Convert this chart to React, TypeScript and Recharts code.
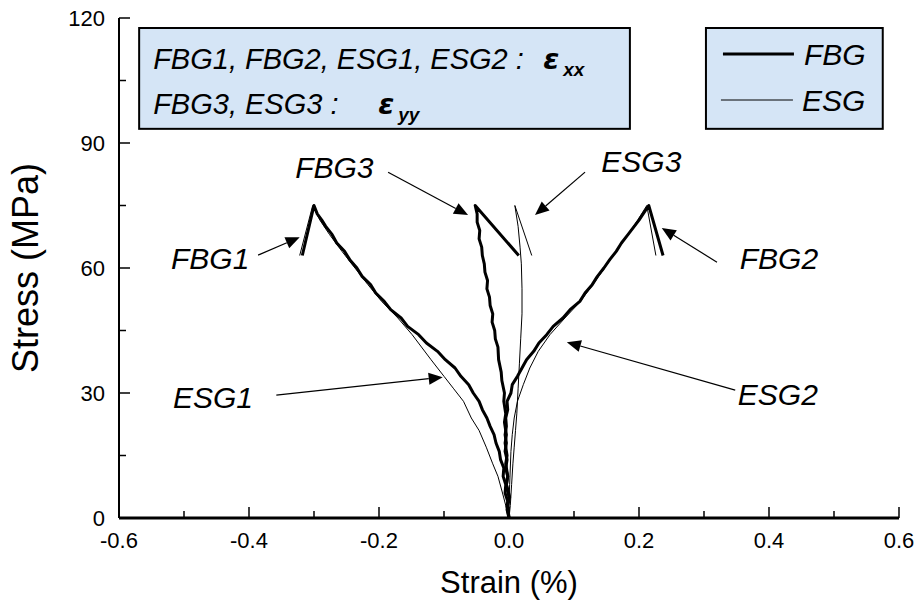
import React from 'react';
import { LineChart, Line, XAxis, YAxis, ReferenceArea, ReferenceLine, ReferenceDot } from 'recharts';

// [strain %, stress MPa]
type Pt = [number, number];

const fbg1: Pt[] = [
  [0, 0], [-0.003, 2], [-0.002, 4], [-0.006, 6], [-0.005, 8], [-0.009, 10], [-0.008, 12],
  [-0.013, 14], [-0.015, 16], [-0.02, 18], [-0.023, 20], [-0.029, 22], [-0.034, 24],
  [-0.041, 26], [-0.046, 28], [-0.055, 30], [-0.062, 32], [-0.074, 34], [-0.083, 36],
  [-0.098, 38], [-0.11, 40], [-0.127, 42], [-0.139, 44], [-0.156, 46], [-0.166, 48],
  [-0.182, 50], [-0.192, 52], [-0.205, 54], [-0.213, 56], [-0.226, 58], [-0.234, 60],
  [-0.245, 62], [-0.253, 64], [-0.265, 66], [-0.272, 68], [-0.282, 70], [-0.288, 71.5],
  [-0.295, 73], [-0.3, 75], [-0.318, 63],
];
const esg1: Pt[] = [
  [0, 0], [-0.005, 3], [-0.01, 6], [-0.017, 10], [-0.025, 13], [-0.035, 17], [-0.046, 21],
  [-0.058, 24], [-0.07, 28], [-0.085, 31], [-0.1, 34], [-0.12, 38], [-0.149, 44],
  [-0.171, 48], [-0.196, 52], [-0.217, 56], [-0.237, 60], [-0.257, 64], [-0.276, 68],
  [-0.291, 71.5], [-0.302, 75], [-0.322, 63],
];
const fbg2: Pt[] = [
  [0, 0], [-0.002, 3], [0.001, 5], [-0.004, 8], [-0.002, 10], [-0.005, 12], [-0.003, 14],
  [-0.006, 16], [-0.004, 18], [-0.006, 20], [-0.004, 22], [-0.005, 24], [-0.002, 26],
  [-0.003, 28], [0.003, 30], [0.005, 32], [0.013, 34], [0.02, 36], [0.027, 38], [0.038, 40],
  [0.046, 42], [0.058, 44], [0.068, 46], [0.083, 48], [0.094, 50], [0.109, 52], [0.117, 54],
  [0.128, 56], [0.136, 58], [0.146, 60], [0.155, 62], [0.165, 64], [0.173, 66], [0.183, 68],
  [0.2, 71.5], [0.215, 75], [0.237, 63],
];
const esg2: Pt[] = [
  [0, 0], [0, 4], [0.001, 8], [0.002, 12], [0.003, 16], [0.005, 20], [0.008, 24], [0.013, 28],
  [0.022, 32], [0.032, 36], [0.045, 40], [0.063, 44], [0.086, 48], [0.11, 52], [0.129, 56],
  [0.147, 60], [0.165, 64], [0.183, 68], [0.198, 71.5], [0.212, 75], [0.226, 63],
];
const fbg3: Pt[] = [
  [0, 0], [-0.003, 3], [0, 5], [-0.004, 8], [-0.002, 10], [-0.005, 13], [-0.003, 15],
  [-0.006, 18], [-0.004, 20], [-0.007, 23], [-0.005, 25], [-0.008, 28], [-0.007, 30],
  [-0.011, 33], [-0.012, 35], [-0.016, 38], [-0.017, 41], [-0.021, 43], [-0.022, 45],
  [-0.026, 47], [-0.025, 49], [-0.029, 51], [-0.03, 53], [-0.034, 55], [-0.033, 57],
  [-0.037, 59], [-0.038, 61], [-0.041, 63], [-0.042, 65], [-0.046, 67], [-0.045, 69],
  [-0.049, 71], [-0.049, 73], [-0.052, 75], [0.015, 63],
];
const esg3: Pt[] = [
  [0, 0], [0.002, 3], [0.004, 8], [0.006, 13], [0.008, 17], [0.01, 21], [0.012, 25],
  [0.014, 31], [0.016, 37], [0.018, 43], [0.02, 49], [0.02, 55], [0.019, 61], [0.017, 65],
  [0.014, 70], [0.009, 75], [0.035, 63],
];

const xTicks = [-0.6, -0.5, -0.4, -0.3, -0.2, -0.1, 0, 0.1, 0.2, 0.3, 0.4, 0.5, 0.6];
const yTicks = [0, 15, 30, 45, 60, 75, 90, 105, 120];

// callout text, placed at [strain, stress] of the baseline start
const calloutLabels = [
  { text: 'FBG1', at: [-0.52, 59.8] },
  { text: 'ESG1', at: [-0.517, 26.4] },
  { text: 'FBG3', at: [-0.329, 81.6] },
  { text: 'ESG3', at: [0.142, 83.0] },
  { text: 'FBG2', at: [0.355, 59.8] },
  { text: 'ESG2', at: [0.352, 27.1] },
];
const calloutArrows = [
  { from: [-0.386, 63.1], to: [-0.322, 67.4] },
  { from: [-0.358, 29.5], to: [-0.102, 33.8] },
  { from: [-0.186, 83.0], to: [-0.063, 72.7] },
  { from: [0.117, 83.0], to: [0.04, 72.7] },
  { from: [0.32, 61.4], to: [0.235, 69.6] },
  { from: [0.348, 30.7], to: [0.089, 42.2] },
];

const toRows = (pts: Pt[]) => pts.map(([strain, stress]) => ({ strain, stress }));

const FONT = '"Liberation Sans", Arial, Helvetica, sans-serif';
const BOX_FILL = '#d5e5f6';

function BottomTick({ x, y, payload }: any) {
  const v = payload.value;
  const major = Math.round(v * 10) % 2 === 0;
  return (
    <g>
      <line x1={x} y1={y} x2={x} y2={y - (major ? 11 : 7)} stroke="#000" strokeWidth={1.5} />
      {major && (
        <text x={x} y={y + 30} textAnchor="middle" fontSize={22} fontFamily={FONT} fill="#000">
          {v.toFixed(1)}
        </text>
      )}
    </g>
  );
}

function LeftTick({ x, y, payload }: any) {
  const v = payload.value;
  const major = v % 30 === 0;
  return (
    <g>
      <line x1={x} y1={y} x2={x + (major ? 11 : 7)} y2={y} stroke="#000" strokeWidth={1.5} />
      {major && (
        <text x={x - 14} y={y + 8} textAnchor="end" fontSize={22} fontFamily={FONT} fill="#000">
          {v}
        </text>
      )}
    </g>
  );
}

function TopTick({ x, y }: any) {
  return <line x1={x} y1={y} x2={x} y2={y + 4} stroke="#000" strokeWidth={1} />;
}

function RightTick({ x, y }: any) {
  return <line x1={x} y1={y} x2={x - 4} y2={y} stroke="#000" strokeWidth={1} />;
}

function Arrow(props: any) {
  const { x1, y1, x2, y2 } = props;
  const dx = x2 - x1;
  const dy = y2 - y1;
  const len = Math.sqrt(dx * dx + dy * dy) || 1;
  const ux = dx / len;
  const uy = dy / len;
  const hl = 14;
  const hw = 6;
  const bx = x2 - ux * hl;
  const by = y2 - uy * hl;
  return (
    <g>
      <line x1={x1} y1={y1} x2={bx} y2={by} stroke="#000" strokeWidth={1.2} />
      <polygon
        points={`${x2},${y2} ${bx - uy * hw},${by + ux * hw} ${bx + uy * hw},${by - ux * hw}`}
        fill="#000"
      />
    </g>
  );
}

function CalloutText(text: string) {
  return (props: any) => (
    <text x={props.cx} y={props.cy} fontSize={30} fontStyle="italic" fontFamily={FONT} fill="#000">
      {text}
    </text>
  );
}

function StrainKey(props: any) {
  const { x, y, width, height } = props;
  const t = { fontSize: 29, fontStyle: 'italic', fontFamily: FONT, fill: '#000' } as const;
  const eps = { fontSize: 29, fontStyle: 'italic', fontWeight: 700, fontFamily: '"DejaVu Sans", sans-serif', fill: '#000' } as const;
  const sub = { fontSize: 19, fontStyle: 'italic', fontWeight: 700, fontFamily: FONT, fill: '#000' } as const;
  return (
    <g>
      <rect x={x} y={y} width={width} height={height} fill={BOX_FILL} stroke="#000" strokeWidth={2} />
      <text x={x + 14} y={y + 41} {...t}>FBG1, FBG2, ESG1, ESG2 :</text>
      <text x={x + 404} y={y + 41} {...eps}>ε</text>
      <text x={x + 424} y={y + 48} {...sub}>xx</text>
      <text x={x + 14} y={y + 86} {...t}>FBG3, ESG3 :</text>
      <text x={x + 239} y={y + 86} {...eps}>ε</text>
      <text x={x + 259} y={y + 93} {...sub}>yy</text>
    </g>
  );
}

function SensorKey(props: any) {
  const { x, y, width, height } = props;
  const t = { fontSize: 30, fontStyle: 'italic', fontFamily: FONT, fill: '#000' } as const;
  return (
    <g>
      <rect x={x} y={y} width={width} height={height} fill={BOX_FILL} stroke="#000" strokeWidth={2} />
      <line x1={x + 17} y1={y + 26} x2={x + 88} y2={y + 26} stroke="#000" strokeWidth={3} />
      <text x={x + 98} y={y + 37} {...t}>FBG</text>
      <line x1={x + 15} y1={y + 72} x2={x + 87} y2={y + 72} stroke="#000" strokeWidth={1} />
      <text x={x + 96} y={y + 83} {...t}>ESG</text>
    </g>
  );
}

export default function App() {
  const series = [
    { key: 'fbg1', data: toRows(fbg1), width: 3 },
    { key: 'esg1', data: toRows(esg1), width: 1 },
    { key: 'fbg2', data: toRows(fbg2), width: 3 },
    { key: 'esg2', data: toRows(esg2), width: 1 },
    { key: 'fbg3', data: toRows(fbg3), width: 3 },
    { key: 'esg3', data: toRows(esg3), width: 1 },
  ];

  return (
    <div style={{ position: 'absolute', left: 0, top: 0, width: 916, height: 608, background: '#fff' }}>
      <LineChart width={916} height={608} margin={{ top: 18, right: 17, bottom: 45, left: 9 }}>
        <XAxis
          xAxisId="b"
          type="number"
          dataKey="strain"
          domain={[-0.6, 0.6]}
          ticks={xTicks}
          interval={0}
          tickSize={0}
          tickMargin={0}
          tickLine={false}
          tick={<BottomTick />}
          axisLine={{ stroke: '#000', strokeWidth: 3 }}
          height={45}
          allowDataOverflow
          label={{ value: 'Strain (%)', position: 'bottom', offset: 8, style: { fontSize: 31, fontFamily: FONT, fill: '#000' } }}
        />
        <XAxis
          xAxisId="t"
          orientation="top"
          type="number"
          dataKey="strain"
          domain={[-0.6, 0.6]}
          ticks={xTicks}
          interval={0}
          tickSize={0}
          tickMargin={0}
          tickLine={false}
          tick={<TopTick />}
          axisLine={{ stroke: '#000', strokeWidth: 2 }}
          height={0}
          allowDataOverflow
        />
        <YAxis
          yAxisId="l"
          type="number"
          domain={[0, 120]}
          ticks={yTicks}
          interval={0}
          tickSize={0}
          tickMargin={0}
          tickLine={false}
          tick={<LeftTick />}
          axisLine={{ stroke: '#000', strokeWidth: 2 }}
          width={110}
          allowDataOverflow
          label={{
            value: 'Stress (MPa)',
            angle: -90,
            position: 'insideLeft',
            offset: 16,
            style: { textAnchor: 'middle', fontSize: 36, fontFamily: FONT, fill: '#000' },
          }}
        />
        <YAxis
          yAxisId="r"
          orientation="right"
          type="number"
          domain={[0, 120]}
          ticks={yTicks}
          interval={0}
          tickSize={0}
          tickMargin={0}
          tickLine={false}
          tick={<RightTick />}
          axisLine={{ stroke: '#000', strokeWidth: 2 }}
          width={0}
          allowDataOverflow
        />

        <ReferenceArea xAxisId="b" yAxisId="l" x1={-0.569} x2={0.186} y1={93.4} y2={117.6} shape={StrainKey} />
        <ReferenceArea xAxisId="b" yAxisId="l" x1={0.303} x2={0.575} y1={93.4} y2={117.6} shape={SensorKey} />

        {series.map((s) => (
          <Line
            key={s.key}
            xAxisId="b"
            yAxisId="l"
            data={s.data}
            dataKey="stress"
            type="linear"
            stroke="#000"
            strokeWidth={s.width}
            strokeLinejoin="round"
            dot={false}
            activeDot={false}
            isAnimationActive={false}
          />
        ))}

        {calloutArrows.map((a, i) => (
          <ReferenceLine
            key={`arrow-${i}`}
            xAxisId="b"
            yAxisId="l"
            segment={[{ x: a.from[0], y: a.from[1] }, { x: a.to[0], y: a.to[1] }]}
            shape={Arrow}
          />
        ))}
        {calloutLabels.map((l) => (
          <ReferenceDot
            key={l.text}
            xAxisId="b"
            yAxisId="l"
            x={l.at[0]}
            y={l.at[1]}
            r={0}
            shape={CalloutText(l.text)}
          />
        ))}
      </LineChart>
    </div>
  );
}
